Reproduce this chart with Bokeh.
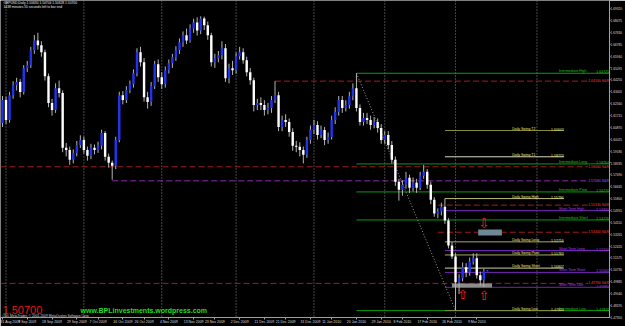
import pandas as pd
from bokeh.plotting import figure
from bokeh.models import FixedTicker, Span, Label
from bokeh.core.properties import value
from bokeh.embed import file_html
from bokeh.resources import INLINE

# ---------------- data ----------------
symbol_line = "GBPUSD,Daily  1.50630 1.50704 1.50628 1.50700"
timer_line = "1438 minutes 55 seconds left to bar end"
last_price = 1.50700

opens = [1.6118, 1.6281, 1.6139, 1.6316, 1.6387, 1.6409, 1.6338, 1.6508, 1.6529, 1.6635,
         1.6706, 1.6671, 1.6621, 1.6451, 1.6260, 1.6210, 1.6366, 1.6331, 1.5941, 1.5926,
         1.5856, 1.5905, 1.5962, 1.5997, 1.5926, 1.5884, 1.5941, 1.5926, 1.5955, 1.6047,
         1.5877, 1.5834, 1.5813, 1.5997, 1.6316, 1.6281, 1.6352, 1.6394, 1.6472, 1.6621,
         1.6550, 1.6302, 1.6267, 1.6380, 1.6536, 1.6444, 1.6394, 1.6494, 1.6543, 1.6586,
         1.6635, 1.6692, 1.6742, 1.6706, 1.6791, 1.6834, 1.6777, 1.6862, 1.6813, 1.6742,
         1.6550, 1.6579, 1.6600, 1.6650, 1.6437, 1.6508, 1.6494, 1.6593, 1.6621, 1.6565,
         1.6480, 1.6423, 1.6246, 1.6260, 1.6246, 1.6210, 1.6224, 1.6281, 1.6316, 1.6090,
         1.6139, 1.6125, 1.6054, 1.5955, 1.5948, 1.5926, 1.5891, 1.5997, 1.6068, 1.6104,
         1.6033, 1.6068, 1.5997, 1.6019, 1.6139, 1.6196, 1.6281, 1.6224, 1.6246, 1.6309,
         1.6366, 1.6224, 1.6125, 1.6153, 1.6139, 1.6104, 1.6125, 1.6082, 1.5997, 1.6033,
         1.5962, 1.5856, 1.5700, 1.5643, 1.5679, 1.5728, 1.5657, 1.5693, 1.5657, 1.5742,
         1.5771, 1.5679, 1.5572, 1.5473, 1.5487, 1.5522, 1.5423, 1.5246, 1.5168, 1.4984,
         1.5012, 1.5090, 1.5054, 1.5132, 1.5154, 1.5033, 1.4998, 1.50630]
closes = [1.6281, 1.6139, 1.6316, 1.6387, 1.6409, 1.6338, 1.6508, 1.6529, 1.6635, 1.6706,
          1.6671, 1.6621, 1.6451, 1.6260, 1.6210, 1.6366, 1.6331, 1.5941, 1.5926, 1.5856,
          1.5905, 1.5962, 1.5997, 1.5926, 1.5884, 1.5941, 1.5926, 1.5955, 1.6047, 1.5877,
          1.5834, 1.5813, 1.5997, 1.6316, 1.6281, 1.6352, 1.6394, 1.6472, 1.6621, 1.6550,
          1.6302, 1.6267, 1.6380, 1.6536, 1.6444, 1.6394, 1.6494, 1.6543, 1.6586, 1.6635,
          1.6692, 1.6742, 1.6706, 1.6791, 1.6834, 1.6777, 1.6862, 1.6813, 1.6742, 1.6550,
          1.6579, 1.6600, 1.6650, 1.6437, 1.6508, 1.6494, 1.6593, 1.6621, 1.6565, 1.6480,
          1.6423, 1.6246, 1.6260, 1.6246, 1.6210, 1.6224, 1.6281, 1.6316, 1.6090, 1.6139,
          1.6125, 1.6054, 1.5955, 1.5948, 1.5926, 1.5891, 1.5997, 1.6068, 1.6104, 1.6033,
          1.6068, 1.5997, 1.6019, 1.6139, 1.6196, 1.6281, 1.6224, 1.6246, 1.6309, 1.6366,
          1.6224, 1.6125, 1.6153, 1.6139, 1.6104, 1.6125, 1.6082, 1.5997, 1.6033, 1.5962,
          1.5856, 1.5700, 1.5643, 1.5679, 1.5728, 1.5657, 1.5693, 1.5657, 1.5742, 1.5771,
          1.5679, 1.5572, 1.5473, 1.5487, 1.5522, 1.5423, 1.5246, 1.5168, 1.4984, 1.5012,
          1.5090, 1.5054, 1.5132, 1.5154, 1.5033, 1.4998, 1.5063, 1.50700]
highs = [1.6310, 1.6305, 1.6340, 1.6415, 1.6440, 1.6430, 1.6530, 1.6560, 1.6660, 1.6745,
         1.6760, 1.6700, 1.6640, 1.6470, 1.6290, 1.6400, 1.6420, 1.6350, 1.5975, 1.5950,
         1.5930, 1.5990, 1.6030, 1.6020, 1.5950, 1.5970, 1.5965, 1.5985, 1.6070, 1.6060,
         1.5900, 1.5850, 1.6020, 1.6340, 1.6345, 1.6380, 1.6420, 1.6500, 1.6650, 1.6660,
         1.6580, 1.6340, 1.6410, 1.6560, 1.6570, 1.6480, 1.6520, 1.6570, 1.6610, 1.6665,
         1.6720, 1.6770, 1.6790, 1.6820, 1.6860, 1.6870, 1.6877, 1.6875, 1.6840, 1.6760,
         1.6610, 1.6630, 1.6700, 1.6680, 1.6540, 1.6560, 1.6620, 1.6660, 1.6650, 1.6590,
         1.6510, 1.6440, 1.6290, 1.6300, 1.6280, 1.6260, 1.6310, 1.6416, 1.6340, 1.6170,
         1.6180, 1.6150, 1.6080, 1.5990, 1.5980, 1.5950, 1.6020, 1.6100, 1.6140, 1.6130,
         1.6100, 1.6090, 1.6050, 1.6170, 1.6230, 1.6310, 1.6310, 1.6280, 1.6340, 1.6400,
         1.6472, 1.6250, 1.6190, 1.6190, 1.6170, 1.6160, 1.6150, 1.6110, 1.6060, 1.6060,
         1.5990, 1.5880, 1.5720, 1.5710, 1.5770, 1.5750, 1.5730, 1.5720, 1.5770, 1.5820,
         1.5790, 1.5700, 1.5590, 1.5510, 1.5550, 1.5580, 1.5440, 1.5270, 1.5190, 1.5040,
         1.5125, 1.5120, 1.5160, 1.5190, 1.5190, 1.5060, 1.5080, 1.50704]
lows = [1.6090, 1.6110, 1.6120, 1.6290, 1.6350, 1.6300, 1.6320, 1.6480, 1.6510, 1.6610,
        1.6640, 1.6590, 1.6420, 1.6230, 1.6170, 1.6190, 1.6300, 1.5910, 1.5880, 1.5820,
        1.5830, 1.5880, 1.5940, 1.5900, 1.5850, 1.5860, 1.5895, 1.5905, 1.5930, 1.5850,
        1.5800, 1.5714, 1.5790, 1.5980, 1.6250, 1.6260, 1.6330, 1.6370, 1.6450, 1.6520,
        1.6270, 1.6220, 1.6240, 1.6360, 1.6410, 1.6360, 1.6370, 1.6470, 1.6510, 1.6560,
        1.6610, 1.6660, 1.6680, 1.6690, 1.6760, 1.6740, 1.6750, 1.6780, 1.6710, 1.6520,
        1.6510, 1.6550, 1.6570, 1.6410, 1.6400, 1.6460, 1.6470, 1.6570, 1.6540, 1.6450,
        1.6390, 1.6200, 1.6210, 1.6210, 1.6170, 1.6180, 1.6190, 1.6260, 1.6060, 1.6060,
        1.6090, 1.6020, 1.5920, 1.5910, 1.5880, 1.5830, 1.5870, 1.5970, 1.6040, 1.6000,
        1.6010, 1.5960, 1.5970, 1.6000, 1.6110, 1.6170, 1.6190, 1.6200, 1.6220, 1.6280,
        1.6200, 1.6100, 1.6100, 1.6110, 1.6070, 1.6080, 1.6050, 1.5970, 1.5970, 1.5930,
        1.5830, 1.5670, 1.5565, 1.5600, 1.5650, 1.5620, 1.5630, 1.5620, 1.5640, 1.5720,
        1.5650, 1.5540, 1.5450, 1.5440, 1.5460, 1.5400, 1.5225, 1.5150, 1.4782, 1.4900,
        1.4990, 1.5020, 1.5030, 1.5110, 1.5010, 1.4960, 1.4950, 1.50628]

holidays = ["2009-12-25", "2010-01-01"]
date_labels = ["2009-08-31", "2009-09-09", "2009-09-18", "2009-09-29", "2009-10-07",
               "2009-10-16", "2009-10-26", "2009-11-04", "2009-11-13", "2009-11-23",
               "2009-12-02", "2009-12-11", "2009-12-21", "2009-12-31", "2010-01-11",
               "2010-01-20", "2010-01-29", "2010-02-08", "2010-02-17", "2010-02-26",
               "2010-03-09"]
month_grid = ["2009-09-01", "2009-10-01", "2009-11-02", "2009-12-01", "2010-01-04",
              "2010-02-01", "2010-03-01", "2010-04-01"]

y_ticks = [1.47350, 1.48195, 1.49040, 1.49885, 1.50730, 1.51575, 1.52420, 1.53265,
           1.54110, 1.54955, 1.55800, 1.56645, 1.57490, 1.58335, 1.59180, 1.60025,
           1.60870, 1.61715, 1.62560, 1.63405, 1.64250, 1.65095, 1.65940, 1.66785,
           1.67630, 1.68475, 1.69320]

# daily swing levels
daily_names = ["Daily Swing  T2", "Daily Swing  T1", "Daily Swing High", "Daily Swing Long",
               "Daily Swing Pivot", "Daily Swing Short", "Daily Swing Low"]
daily_levels = [1.60643, 1.58773, 1.55796, 1.52716, 1.51783, 1.50847, 1.47820]
daily_colors = ["#8c8c3c", "#d8d8b8", "#bcbc84", "#a8a868", "#a8a868", "#d0d0a0", "#8c8c48"]
daily_from_bar = 125
daily_to_bar = 158.6

# intermediate swing levels (green)
inter_names = ["Intermediate High", "Intermediate Long", "Intermediate Pivot",
               "Intermediate Short", "Intermediate Low"]
inter_levels = [1.64720, 1.58264, 1.56270, 1.54276, 1.47820]
inter_from_bar = 100

# short term levels (purple)
short_names = ["Short Term High", "Short Term Long", "Short Term Short", "Short Term Low"]
short_levels = [1.54940, 1.52100, 1.50540, 1.49480]
short_from_bar = 125

# support & resistance (dashed)
sr_levels = [1.64160, 1.58060, 1.57060, 1.55330, 1.53400, 1.49760]
sr_from_bar = [77, -1, 31, 123, 123, -1]
sr_colors = ["#a01c1c", "#a01c1c", "#8a2ea8", "#a01c1c", "#a01c1c", "#a01c1c"]
sr_text_colors = ["#ff3030", "#ff3030", "#b050f0", "#ff3030", "#ff3030", "#ff3030"]

# zones and arrows
zone_left = [127, 134.4]
zone_right = [138.3, 141.1]
zone_bottom = [1.4946, 1.5317]
zone_top = [1.4975, 1.5360]
zone_colors = ["#8c8c8c", "#6f8796"]
up_arrow_bar = [130, 136]
up_arrow_price = [1.4900, 1.4892]
down_arrow_bar = [136]
down_arrow_price = [1.5405]

# swing trend line (from intermediate high to low)
trend_bar = [100, 128]
trend_price = [1.64720, 1.47820]

# ---------------- figure ----------------
cal = pd.bdate_range("2009-08-31", "2010-04-30")
cal = cal[~cal.isin(pd.to_datetime(holidays))]
pos = {d: i for i, d in enumerate(cal)}

n = len(closes)
xs = list(range(n))
X_START, X_END = -0.56, 171.5
Y_START, Y_END = 1.4733, 1.6990

p = figure(width=625, height=326, x_range=(X_START, X_END), y_range=(Y_START, Y_END),
           output_backend="svg", toolbar_location=None, y_axis_location="right",
           background_fill_color="black", border_fill_color="black",
           outline_line_color=None, min_border_left=0, min_border_top=0,
           min_border_right=12, min_border_bottom=8)
p.grid.visible = False

FONT = "Liberation Sans"
for ax in (p.xaxis[0], p.yaxis[0]):
    ax.axis_line_color = "#a0a0a0"
    ax.major_tick_line_color = "#a0a0a0"
    ax.minor_tick_line_color = None
    ax.major_tick_in = 0
    ax.major_label_text_color = "#dcdcdc"
    ax.major_label_text_font = FONT
    ax.major_label_standoff = 0
p.xaxis[0].major_label_text_font_size = "3.5px"
p.yaxis[0].major_label_text_font_size = "3.2px"

xt = [pos[pd.Timestamp(d)] for d in date_labels]
p.xaxis[0].ticker = FixedTicker(ticks=xt)
p.xaxis[0].major_label_overrides = {
    pos[pd.Timestamp(d)]: f"{pd.Timestamp(d).day} {pd.Timestamp(d).strftime('%b %Y')}"
    for d in date_labels}
p.xaxis[0].major_tick_out = 2
p.xaxis[0].major_label_text_align = "left"

p.yaxis[0].ticker = FixedTicker(ticks=y_ticks)
p.yaxis[0].major_label_overrides = {t: f"{t:.5f}" for t in y_ticks}
p.yaxis[0].major_tick_out = 1

# month grid
for d in month_grid:
    s = Span(location=pos[pd.Timestamp(d)], dimension="height", line_color="#8a8a8a",
             line_dash="1 2", line_width=1)
    s.level = "underlay"
    p.add_layout(s)

# S&R dashed lines
for lvl, start, col in zip(sr_levels, sr_from_bar, sr_colors):
    x0 = X_START if start < 0 else start
    p.segment(x0=[x0], y0=[lvl], x1=[X_END], y1=[lvl], line_color=col,
              line_dash="6 3", line_width=1)

# intermediate (green)
for lvl in inter_levels:
    p.segment(x0=[inter_from_bar], y0=[lvl], x1=[X_END], y1=[lvl],
              line_color="#0c9a0c", line_width=1)
# short term (purple)
for lvl in short_levels:
    p.segment(x0=[short_from_bar], y0=[lvl], x1=[X_END], y1=[lvl],
              line_color="#7424b4", line_width=1)
# daily swing
for lvl, col in zip(daily_levels, daily_colors):
    p.segment(x0=[daily_from_bar], y0=[lvl], x1=[daily_to_bar], y1=[lvl],
              line_color=col, line_width=1)

# zones
p.quad(left=zone_left, right=zone_right, bottom=zone_bottom, top=zone_top,
       fill_color=zone_colors, line_color=None)

# trend line
p.line(trend_bar, trend_price, line_color="#9a9a9a", line_dash="1 2", line_width=1)

# candles
body_top = [max(o, c) for o, c in zip(opens, closes)]
body_bot = [min(o, c) for o, c in zip(opens, closes)]
body_col = ["#2233ee" if c > o else "#ffffff" for o, c in zip(opens, closes)]
p.segment(x0=xs, y0=lows, x1=xs, y1=highs, line_color="#b4b4b4", line_width=1)
p.vbar(x=xs, width=0.68, top=body_top, bottom=body_bot, fill_color=body_col,
       line_color=None)

# labels for levels
TS = "3.5px"
p.text(x=[144] * len(daily_levels), y=daily_levels, text=daily_names,
       text_font=value(FONT), text_font_size=TS, text_color="#e6e67a",
       text_baseline="bottom", text_align="left")
p.text(x=[155] * len(daily_levels), y=daily_levels, text=[f"{v:.5f}" for v in daily_levels],
       text_font=value(FONT), text_font_size=TS, text_color="#e6e67a",
       text_baseline="bottom", text_align="left")
p.text(x=[157.2] * len(inter_levels), y=inter_levels, text=inter_names,
       text_font=value(FONT), text_font_size=TS, text_color="#20c020",
       text_baseline="bottom", text_align="left")
p.text(x=[X_END - 0.15] * len(inter_levels), y=inter_levels,
       text=[f"{v:.5f}" for v in inter_levels], text_font=value(FONT),
       text_font_size=TS, text_color="#20c020", text_baseline="bottom", text_align="right")
p.text(x=[157.2] * len(short_levels), y=short_levels, text=short_names,
       text_font=value(FONT), text_font_size=TS, text_color="#a040e8",
       text_baseline="bottom", text_align="left")
p.text(x=[X_END - 0.15] * len(short_levels), y=short_levels,
       text=[f"{v:.5f}" for v in short_levels], text_font=value(FONT),
       text_font_size=TS, text_color="#a040e8", text_baseline="bottom", text_align="right")
p.text(x=[X_END - 0.15] * len(sr_levels), y=sr_levels,
       text=[f"{v:.5f} S&R" for v in sr_levels], text_font=value(FONT),
       text_font_size=TS, text_color=sr_text_colors, text_baseline="middle",
       text_align="right", background_fill_color="black")

# arrows
p.text(x=up_arrow_bar, y=up_arrow_price, text=["\u21e7"] * len(up_arrow_bar),
       text_font=value("DejaVu Sans"), text_font_size="13px", text_color="#ff2020",
       text_align="center", text_baseline="middle")
p.text(x=down_arrow_bar, y=down_arrow_price, text=["\u21e9"] * len(down_arrow_bar),
       text_font=value("DejaVu Sans"), text_font_size="13px", text_color="#ff2020",
       text_align="center", text_baseline="middle")

# texts
p.add_layout(Label(x=3, y=316.5, x_units="screen", y_units="screen", text=symbol_line,
                   text_font=FONT, text_font_size="3.3px", text_color="#e8e8e8",
                   text_baseline="top"))
p.add_layout(Label(x=3, y=312.5, x_units="screen", y_units="screen", text=timer_line,
                   text_font=FONT, text_font_size="3.3px", text_color="#e8e8e8",
                   text_baseline="top"))
p.add_layout(Label(x=2, y=12, x_units="screen", y_units="screen", text=f"{last_price:.5f}",
                   text_font=FONT, text_font_size="11px", text_color="#ee1414",
                   text_baseline="top"))
p.add_layout(Label(x=80, y=11, x_units="screen", y_units="screen",
                   text="www.BPLinvestments.wordpress.com", text_font=FONT,
                   text_font_size="7px", text_font_style="bold", text_color="#22dd22",
                   text_baseline="top"))
p.add_layout(Label(x=2, y=3.5, x_units="screen", y_units="screen",
                   text="ODL MetaTrader, \u00a9 2001-2009 MetaQuotes Software Corp.",
                   text_font=FONT, text_font_size="3.3px", text_color="#d0d0d0",
                   text_baseline="top"))
p.add_layout(Label(x=612, y=last_price, x_units="screen", y_units="data",
                   text=f"{last_price:.5f}", text_font=FONT, text_font_size="3.2px",
                   text_color="black", background_fill_color="white",
                   text_baseline="middle"))

open("out.html", "w").write(file_html(p, INLINE))
